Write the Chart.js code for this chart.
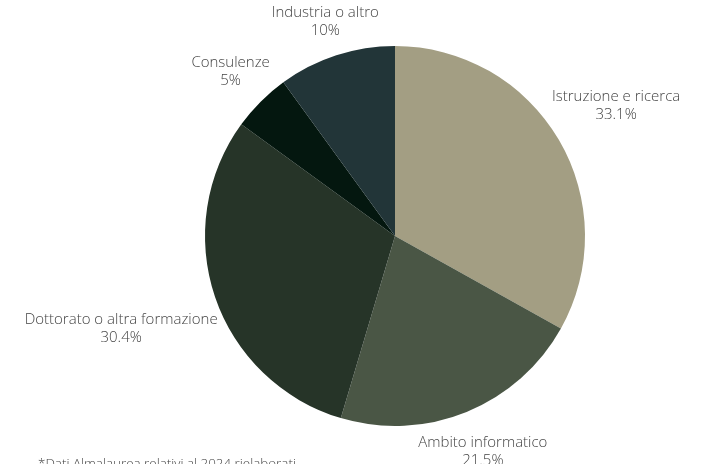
<!DOCTYPE html>
<html>
<head>
<meta charset="utf-8">
<script src="https://cdn.jsdelivr.net/npm/chart.js@4/dist/chart.umd.min.js"></script>
<style>
  html, body { margin: 0; padding: 0; background: #fff; overflow: hidden; }
  #wrap { position: relative; width: 702px; height: 464px; }
  #note { position: absolute; left: 38px; top: 454px; font: 300 13.4px "Open Sans", sans-serif; color: #444; white-space: nowrap; }
</style>
</head>
<body>
<div id="wrap">
  <canvas id="pie" width="702" height="464"></canvas>
  <div id="note">*Dati Almalaurea relativi al 2024 rielaborati</div>
</div>
<script>
var labels = ["Istruzione e ricerca", "Ambito informatico", "Dottorato o altra formazione", "Consulenze", "Industria o altro"];
var values = [33.1, 21.5, 30.4, 5, 10];
var colors = ["#a39e83", "#4a5645", "#263428", "#04170f", "#223538"];

// etichette fuori dalla torta, centro del testo sul raggio medio della fetta
var outLabels = {
  id: 'outLabels',
  afterDraw: function(chart) {
    var ctx = chart.ctx;
    var meta = chart.getDatasetMeta(0);
    ctx.save();
    ctx.font = '300 15px "Open Sans", sans-serif';
    ctx.fillStyle = '#444';
    ctx.textAlign = 'center';
    ctx.textBaseline = 'middle';
    meta.data.forEach(function(arc, i) {
      var p = arc.getProps(['x', 'y', 'startAngle', 'endAngle', 'outerRadius'], true);
      var mid = (p.startAngle + p.endAngle) / 2;
      var dx = Math.cos(mid), dy = Math.sin(mid);
      var lines = [labels[i], values[i] + '%'];
      var w = Math.max(ctx.measureText(lines[0]).width, ctx.measureText(lines[1]).width);
      var h = 36;
      var r = p.outerRadius + 2 + Math.abs(dx) * w / 2 + Math.abs(dy) * h / 2;
      var cx = p.x + dx * r;
      var cy = p.y + dy * r;
      ctx.fillText(lines[0], cx, cy - 9);
      ctx.fillText(lines[1], cx, cy + 9);
    });
    ctx.restore();
  }
};

new Chart(document.getElementById("pie"), {
  type: 'pie',
  data: {
    labels: labels,
    datasets: [{
      data: values,
      backgroundColor: colors,
      borderWidth: 0
    }]
  },
  options: {
    responsive: false,
    animation: false,
    layout: { padding: { left: 205, right: 117, top: 46, bottom: 38 } },
    plugins: {
      legend: { display: false },
      tooltip: { enabled: false }
    }
  },
  plugins: [outLabels]
});
</script>
</body>
</html>
